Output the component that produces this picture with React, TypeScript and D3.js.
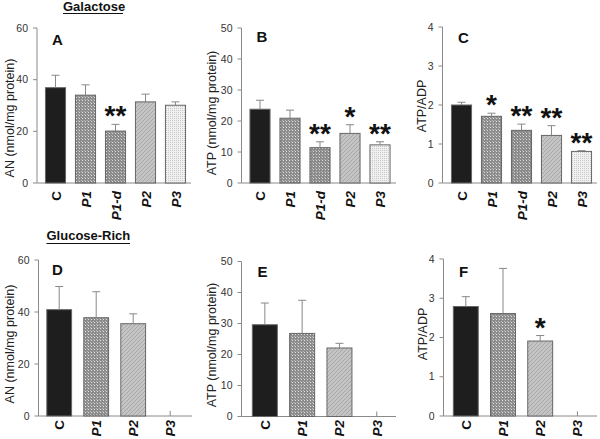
import React from "react";
import * as d3 from "d3";

const topCats = ["C", "P1", "P1-d", "P2", "P3"];
const botCats = ["C", "P1", "P2", "P3"];

const anGal = [36.9, 34.0, 20.1, 31.4, 30.1];
const anGalErr = [41.7, 38.0, 22.7, 34.4, 31.4];
const atpGal = [23.8, 20.9, 11.4, 16.0, 12.3];
const atpGalErr = [26.7, 23.5, 13.3, 18.8, 13.3];
const ratioGal = [2.0, 1.71, 1.35, 1.22, 0.81];
const ratioGalErr = [2.07, 1.79, 1.51, 1.47, 0.83];

const anGlu = [40.9, 37.8, 35.5, 0];
const anGluErr = [49.8, 47.8, 39.3, 2.0];
const atpGlu = [29.6, 26.8, 22.1, 0];
const atpGluErr = [36.6, 37.5, 23.6, 1.6];
const ratioGlu = [2.79, 2.61, 1.91, 0];
const ratioGluErr = [3.04, 3.76, 2.05, 0.12];

const starsA = ["", "", "**", "", ""];
const starsB = ["", "", "**", "*", "**"];
const starsC = ["", "*", "**", "**", "**"];
const starsD = ["", "", "", ""];
const starsE = ["", "", "", ""];
const starsF = ["", "", "*", ""];

const ticksAN = [0, 20, 40, 60];
const ticksATP = [0, 10, 20, 30, 40, 50];
const ticksRatio = [0, 1, 2, 3, 4];

const fills: Record<string, string> = {
  C: "#1e1e1e",
  P1: "url(#patP1)",
  "P1-d": "url(#patP1d)",
  P2: "url(#patP2)",
  P3: "url(#patP3)",
};

type PanelProps = {
  axisX: number;
  xStart: number;
  xEnd: number;
  axisEnd: number;
  y0: number;
  y1: number;
  max: number;
  ticks: number[];
  cats: string[];
  vals: number[];
  errs: number[];
  stars: string[];
  letter: string;
  letterX: number;
  letterY: number;
  ylabel: string;
  ylabelX: number;
  ylabelY: number;
  labelY: number;
};

const FONT = "Liberation Sans, Arial, sans-serif";

function Panel(p: PanelProps) {
  const y = d3.scaleLinear().domain([0, p.max]).range([p.y0, p.y1]);
  const x = d3
    .scaleBand<string>()
    .domain(p.cats)
    .range([p.xStart, p.xEnd])
    .paddingInner(0.33)
    .paddingOuter(0.165);
  const bw = x.bandwidth();
  const axisColor = "#8a8a8a";
  return (
    <g>
      <line x1={p.axisX} x2={p.axisX} y1={p.y0} y2={p.y1} stroke={axisColor} strokeWidth={1} />
      <line x1={p.axisX} x2={p.axisEnd} y1={p.y0} y2={p.y0} stroke={axisColor} strokeWidth={1} />
      {p.ticks.map((t) => (
        <g key={t}>
          <line x1={p.axisX - 4} x2={p.axisX} y1={y(t)} y2={y(t)} stroke={axisColor} />
          <text
            x={p.axisX - 9}
            y={y(t) + 3.5}
            textAnchor="end"
            fontSize={10.5}
            fill="#333"
            fontFamily={FONT}
          >
            {t}
          </text>
        </g>
      ))}
      {p.cats.map((c, i) => {
        const bx = x(c)!;
        const cx = bx + bw / 2;
        const v = p.vals[i];
        const e = p.errs[i];
        return (
          <g key={c}>
            {v > 0 && (
              <rect
                x={bx}
                y={y(v)}
                width={bw}
                height={p.y0 - y(v)}
                fill={fills[c]}
                stroke="#666"
                strokeWidth={1}
              />
            )}
            <line x1={cx} x2={cx} y1={y(v)} y2={y(e)} stroke="#888" strokeWidth={1} />
            {v > 0 && (
              <line x1={cx - 4} x2={cx + 4} y1={y(e)} y2={y(e)} stroke="#888" strokeWidth={1} />
            )}
            {p.stars[i] && (
              <text
                x={cx}
                y={y(e) + 1}
                textAnchor="middle"
                fontSize={28}
                fontWeight="bold"
                fill="#111"
                fontFamily={FONT}
              >
                {p.stars[i]}
              </text>
            )}
            <text
              transform={`translate(${cx + 5},${p.labelY}) rotate(-90)`}
              textAnchor="end"
              fontSize={13.5}
              fontWeight="bold"
              fontStyle={c === "C" ? "normal" : "italic"}
              fill="#111"
              fontFamily={FONT}
            >
              {c}
            </text>
          </g>
        );
      })}
      <text
        x={p.letterX}
        y={p.letterY}
        fontSize={15}
        fontWeight="bold"
        fill="#111"
        fontFamily={FONT}
      >
        {p.letter}
      </text>
      <text
        transform={`translate(${p.ylabelX},${p.ylabelY}) rotate(-90)`}
        textAnchor="middle"
        fontSize={12.5}
        fill="#222"
        fontFamily={FONT}
      >
        {p.ylabel}
      </text>
    </g>
  );
}

export default function App() {
  const topY0 = 183;
  const topY1 = 28;
  const botY0 = 416;
  const botY1 = 260;
  return (
    <svg
      width={600}
      height={439}
      style={{ position: "absolute", left: 0, top: 0, background: "#fff" }}
    >
      <defs>
        <pattern id="patP1" width={3} height={3} patternUnits="userSpaceOnUse">
          <rect width={3} height={3} fill="#8c8c8c" />
          <rect x={1} y={1} width={1} height={1} fill="#e0e0e0" />
          <rect x={0} y={0} width={1} height={1} fill="#b8b8b8" />
        </pattern>
        <pattern id="patP1d" width={3} height={3} patternUnits="userSpaceOnUse">
          <rect width={3} height={3} fill="#8a8a8a" />
          <rect x={1} y={1} width={1} height={1} fill="#d8d8d8" />
          <rect x={0} y={0} width={1} height={1} fill="#b0b0b0" />
        </pattern>
        <pattern id="patP2" width={4} height={4} patternUnits="userSpaceOnUse">
          <rect width={4} height={4} fill="#c4c4c4" />
          <path d="M0,4 L4,0 M-1,1 L1,-1 M3,5 L5,3" stroke="#a8a8a8" strokeWidth={1} />
        </pattern>
        <pattern id="patP3" width={2} height={2} patternUnits="userSpaceOnUse">
          <rect width={2} height={2} fill="#f0f0f0" />
          <rect x={0} y={0} width={1} height={1} fill="#c8c8c8" />
        </pattern>
      </defs>

      <text x={63} y={10.5} fontSize={13} fontWeight="bold" fill="#111" fontFamily={FONT}>
        Galactose
      </text>
      <line x1={63} x2={123} y1={13.5} y2={13.5} stroke="#111" strokeWidth={1} />
      <text x={46.5} y={240} fontSize={13} fontWeight="bold" fill="#111" fontFamily={FONT}>
        Glucose-Rich
      </text>
      <line x1={46.5} x2={130} y1={243.5} y2={243.5} stroke="#111" strokeWidth={1} />

      <Panel
        axisX={37} xStart={40.5} xEnd={190.5} axisEnd={191}
        y0={topY0} y1={topY1} max={60} ticks={ticksAN}
        cats={topCats} vals={anGal} errs={anGalErr} stars={starsA}
        letter="A" letterX={52} letterY={45}
        ylabel="AN (nmol/mg protein)" ylabelX={14} ylabelY={118} labelY={191}
      />
      <Panel
        axisX={241.5} xStart={245} xEnd={395} axisEnd={396}
        y0={topY0} y1={topY1} max={50} ticks={ticksATP}
        cats={topCats} vals={atpGal} errs={atpGalErr} stars={starsB}
        letter="B" letterX={256.5} letterY={42}
        ylabel="ATP (nmol/mg protein)" ylabelX={216} ylabelY={113} labelY={191}
      />
      <Panel
        axisX={442.5} xStart={446.5} xEnd={596.5} axisEnd={597}
        y0={topY0} y1={topY1 - 1} max={4} ticks={ticksRatio}
        cats={topCats} vals={ratioGal} errs={ratioGalErr} stars={starsC}
        letter="C" letterX={458} letterY={43}
        ylabel="ATP/ADP" ylabelX={426} ylabelY={106} labelY={191}
      />
      <Panel
        axisX={38.5} xStart={40.7} xEnd={188.7} axisEnd={192}
        y0={botY0} y1={botY1} max={60} ticks={ticksAN}
        cats={botCats} vals={anGlu} errs={anGluErr} stars={starsD}
        letter="D" letterX={52} letterY={275}
        ylabel="AN (nmol/mg protein)" ylabelX={14} ylabelY={344} labelY={420}
      />
      <Panel
        axisX={241.5} xStart={246.2} xEnd={395.4} axisEnd={396}
        y0={botY0 + 0.5} y1={botY1 + 1.5} max={50} ticks={ticksATP}
        cats={botCats} vals={atpGlu} errs={atpGluErr} stars={starsE}
        letter="E" letterX={257.5} letterY={277}
        ylabel="ATP (nmol/mg protein)" ylabelX={216} ylabelY={345} labelY={420}
      />
      <Panel
        axisX={443.5} xStart={447.2} xEnd={596} axisEnd={597}
        y0={botY0} y1={botY1 - 1} max={4} ticks={ticksRatio}
        cats={botCats} vals={ratioGlu} errs={ratioGluErr} stars={starsF}
        letter="F" letterX={459} letterY={277}
        ylabel="ATP/ADP" ylabelX={427} ylabelY={334} labelY={420}
      />
    </svg>
  );
}
